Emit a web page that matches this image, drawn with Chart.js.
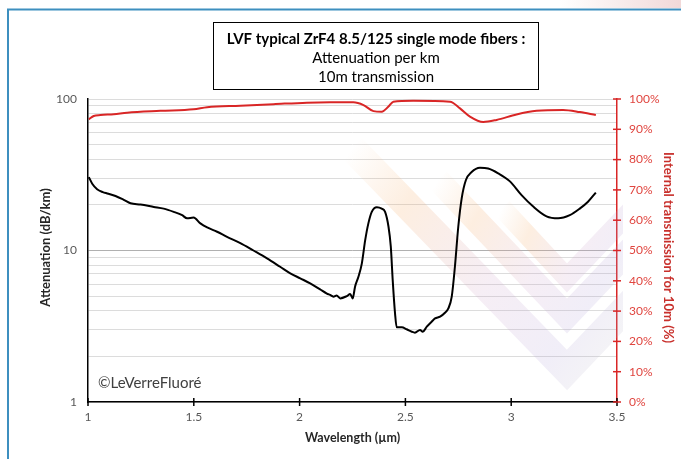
<!DOCTYPE html>
<html>
<head>
<meta charset="utf-8">
<script src="https://cdn.jsdelivr.net/npm/chart.js@4.4.1/dist/chart.umd.min.js"></script>
<style>
  html, body { margin: 0; padding: 0; background: #fff; }
  canvas { display: block; }
</style>
</head>
<body>
<canvas id="fiberChart" width="681" height="459"></canvas>
<script>
// chart data
const titleLines = ["LVF typical ZrF4 8.5/125 single mode fibers :", "Attenuation per km", "10m transmission"];

const wavelengthAtt = [
  1.004, 1.02, 1.043, 1.07, 1.091, 1.13, 1.169, 1.201, 1.248, 1.311, 1.358, 1.405, 1.445, 1.468, 1.499,
  1.531, 1.563, 1.61, 1.657, 1.72, 1.782, 1.846, 1.908, 1.956, 2.003, 2.05, 2.097, 2.129, 2.144, 2.16,
  2.175, 2.192, 2.223, 2.239, 2.251, 2.262, 2.278, 2.294, 2.31, 2.325, 2.341, 2.365, 2.388, 2.404, 2.42,
  2.431, 2.44, 2.451, 2.459, 2.483, 2.506, 2.53, 2.545, 2.569, 2.582, 2.601, 2.624, 2.64, 2.664, 2.687,
  2.703, 2.719, 2.734, 2.75, 2.766, 2.786, 2.813, 2.852, 2.891, 2.939, 2.994, 3.049, 3.104, 3.167, 3.222,
  3.277, 3.324, 3.363, 3.4
];
const attenuation = [
  30.5, 27.6, 25.4, 24.3, 23.8, 22.9, 21.6, 20.5, 20.1, 19.4, 18.9, 18.0, 17.1, 16.3, 16.5,
  15.1, 14.2, 13.3, 12.3, 11.2, 10.0, 8.87, 7.81, 7.07, 6.55, 6.07, 5.54, 5.2, 5.09, 4.96,
  5.05, 4.83, 5.0, 5.16, 4.83, 5.77, 6.71, 8.2, 11.7, 15.1, 18.0, 19.3, 18.9, 18.0, 14.4,
  10.6, 6.38, 3.85, 3.11, 3.11, 3.02, 2.91, 2.87, 2.99, 2.91, 3.14, 3.39, 3.56, 3.66, 3.88,
  4.15, 4.96, 7.81, 14.4, 22.1, 29.2, 33.0, 35.2, 34.8, 32.3, 28.6, 23.2, 19.5, 16.8, 16.3,
  17.1, 18.9, 21.0, 24.1
];

const wavelengthTrans = [
  1.004, 1.027, 1.059, 1.122, 1.185, 1.342, 1.499, 1.563, 1.72, 1.877, 2.034, 2.144, 2.254, 2.302, 2.349,
  2.388, 2.42, 2.443, 2.537, 2.711, 2.758, 2.805, 2.868, 2.931, 3.025, 3.12, 3.245, 3.324, 3.4
];
const transmission = [
  93.3, 94.4, 94.7, 95.0, 95.5, 96.1, 96.6, 97.3, 97.8, 98.3, 98.8, 98.9, 98.9, 98.0, 96.0,
  95.8, 97.5, 99.1, 99.4, 99.1, 96.9, 94.2, 92.4, 93.1, 94.9, 96.1, 96.4, 95.7, 94.7
];

const xTicks = [1, 1.5, 2, 2.5, 3, 3.5];
const attTicks = [1, 2, 3, 4, 5, 6, 7, 8, 9, 10, 20, 30, 40, 50, 60, 70, 80, 90, 100];
const attLabels = [1, 10, 100];
const transTicks = [0, 10, 20, 30, 40, 50, 60, 70, 80, 90, 100];

const RED = "#d92626";
const GREY_TEXT = "#595959";

Chart.defaults.font.family = "Lato";

function toPoints(xs, ys) {
  return xs.map((x, i) => ({ x: x, y: ys[i] }));
}

// faint watermark chevrons behind the curves
function drawChevron(ctx, a, b, c, width) {
  const g = ctx.createLinearGradient(a[0], a[1], c[0], b[1]);
  g.addColorStop(0, "rgba(245,170,100,0)");
  g.addColorStop(0.2, "rgba(245,170,100,0.20)");
  g.addColorStop(0.5, "rgba(205,160,200,0.18)");
  g.addColorStop(0.75, "rgba(175,160,215,0.18)");
  g.addColorStop(1, "rgba(200,210,185,0.14)");
  ctx.strokeStyle = g;
  ctx.lineWidth = width;
  ctx.lineJoin = "miter";
  ctx.beginPath();
  ctx.moveTo(a[0], a[1]);
  ctx.lineTo(b[0], b[1]);
  ctx.lineTo(c[0], c[1]);
  ctx.stroke();
}

const decorPlugin = {
  id: "decor",
  beforeDraw(chart) {
    const ctx = chart.ctx;
    ctx.save();
    ctx.fillStyle = "#fff";
    ctx.fillRect(0, 0, chart.width, chart.height);

    // pink smear in the top right corner
    const g = ctx.createLinearGradient(560, 0, 681, 0);
    g.addColorStop(0, "rgba(235,200,200,0)");
    g.addColorStop(1, "rgba(235,200,200,0.7)");
    ctx.fillStyle = g;
    ctx.fillRect(560, 0, 121, 8);

    // frame of the picture
    ctx.strokeStyle = "#3d8fbf";
    ctx.lineWidth = 2;
    ctx.beginPath();
    ctx.moveTo(8, chart.height);
    ctx.lineTo(8, 9.5);
    ctx.lineTo(chart.width, 9.5);
    ctx.stroke();
    ctx.restore();
  },
  beforeDatasetsDraw(chart) {
    const ctx = chart.ctx;
    const area = chart.chartArea;
    ctx.save();
    ctx.beginPath();
    ctx.rect(area.left, area.top, area.right - area.left + 6, area.bottom - area.top);
    ctx.clip();
    drawChevron(ctx, [352, 148], [567, 370], [660, 272], 28);
    drawChevron(ctx, [438, 180], [567, 316], [660, 218], 24);
    drawChevron(ctx, [502, 208], [567, 278], [660, 180], 20);
    ctx.restore();
  },
  afterDraw(chart) {
    const ctx = chart.ctx;
    const area = chart.chartArea;
    const xs = chart.scales.x;
    const y2 = chart.scales.y2;
    ctx.save();

    // tick marks crossing the x axis and the right axis
    ctx.lineWidth = 1.5;
    ctx.strokeStyle = "#000";
    xTicks.forEach((t) => {
      const px = xs.getPixelForValue(t);
      ctx.beginPath();
      ctx.moveTo(px, area.bottom - 4);
      ctx.lineTo(px, area.bottom + 4);
      ctx.stroke();
    });
    ctx.strokeStyle = RED;
    transTicks.forEach((t) => {
      const py = y2.getPixelForValue(t);
      ctx.beginPath();
      ctx.moveTo(area.right - 4, py);
      ctx.lineTo(area.right + 4, py);
      ctx.stroke();
    });

    // title box
    ctx.fillStyle = "#fff";
    ctx.fillRect(213, 22, 325, 67);
    ctx.strokeStyle = "#000";
    ctx.lineWidth = 1;
    ctx.strokeRect(213.5, 22.5, 325, 67);
    ctx.fillStyle = "#000";
    ctx.textAlign = "center";
    ctx.textBaseline = "middle";
    ctx.font = "bold 15px Lato";
    ctx.fillText(titleLines[0], 376, 39);
    ctx.font = "15px Lato";
    ctx.fillText(titleLines[1], 376, 58);
    ctx.fillText(titleLines[2], 376, 77);

    // axis titles
    ctx.font = "bold 12.5px Lato";
    ctx.fillStyle = "#262626";
    ctx.fillText("Wavelength (\u00b5m)", (area.left + area.right) / 2, 438);

    ctx.font = "bold 13px Lato";
    ctx.save();
    ctx.translate(46, (area.top + area.bottom) / 2 - 3);
    ctx.rotate(-Math.PI / 2);
    ctx.fillText("Attenuation (dB/km)", 0, 0);
    ctx.restore();

    ctx.save();
    ctx.translate(668, (area.top + area.bottom) / 2 - 3);
    ctx.rotate(Math.PI / 2);
    ctx.fillStyle = "#c8302c";
    ctx.fillText("Internal transmission for 10m (%)", 0, 0);
    ctx.restore();

    // copyright
    ctx.font = "15px Lato";
    ctx.fillStyle = "#404040";
    ctx.textAlign = "left";
    ctx.fillText("\u00a9LeVerreFluor\u00e9", 98, 383);

    ctx.restore();
  }
};

new Chart(document.getElementById("fiberChart"), {
  type: "line",
  data: {
    datasets: [
      {
        label: "Attenuation (dB/km)",
        data: toPoints(wavelengthAtt, attenuation),
        yAxisID: "y",
        borderColor: "#000",
        borderWidth: 2,
        pointRadius: 0,
        cubicInterpolationMode: "monotone",
      },
      {
        label: "Internal transmission for 10m (%)",
        data: toPoints(wavelengthTrans, transmission),
        yAxisID: "y2",
        borderColor: RED,
        borderWidth: 2,
        pointRadius: 0,
        cubicInterpolationMode: "monotone",
      },
    ],
  },
  options: {
    responsive: false,
    animation: false,
    devicePixelRatio: 1,
    layout: { padding: { top: 99, left: 0, right: 0, bottom: 0 } },
    plugins: {
      legend: { display: false },
      tooltip: { enabled: false },
    },
    scales: {
      x: {
        type: "linear",
        min: 1,
        max: 3.5,
        afterBuildTicks: (scale) => {
          scale.ticks = xTicks.map((v) => ({ value: v }));
        },
        afterFit: (scale) => {
          scale.height = 57;
        },
        grid: { display: false, drawTicks: false },
        border: { color: "#000", width: 1.5 },
        ticks: {
          color: GREY_TEXT,
          font: { size: 12 },
          padding: 8,
          maxRotation: 0,
          callback: (v) => String(v),
        },
      },
      y: {
        type: "logarithmic",
        position: "left",
        min: 1,
        max: 100,
        afterBuildTicks: (scale) => {
          scale.ticks = attTicks.map((v) => ({ value: v }));
        },
        afterFit: (scale) => {
          scale.width = 88;
        },
        grid: {
          drawTicks: false,
          color: (c) => (c.tick && c.tick.value === 10 ? "#b0b0b0" : "#dcdcdc"),
          lineWidth: 1,
        },
        border: { color: "#000", width: 1.5 },
        ticks: {
          color: GREY_TEXT,
          font: { size: 12 },
          padding: 11,
          autoSkip: false,
          callback: (v) => (attLabels.includes(v) ? String(v) : ""),
        },
      },
      y2: {
        type: "linear",
        position: "right",
        min: 0,
        max: 100,
        afterBuildTicks: (scale) => {
          scale.ticks = transTicks.map((v) => ({ value: v }));
        },
        afterFit: (scale) => {
          scale.width = 64;
        },
        grid: { drawOnChartArea: false, drawTicks: false },
        border: { color: RED, width: 1.5 },
        ticks: {
          color: "#e0453f",
          font: { size: 12 },
          padding: 12,
          callback: (v) => v + "%",
        },
      },
    },
  },
  plugins: [decorPlugin],
});
</script>
</body>
</html>
